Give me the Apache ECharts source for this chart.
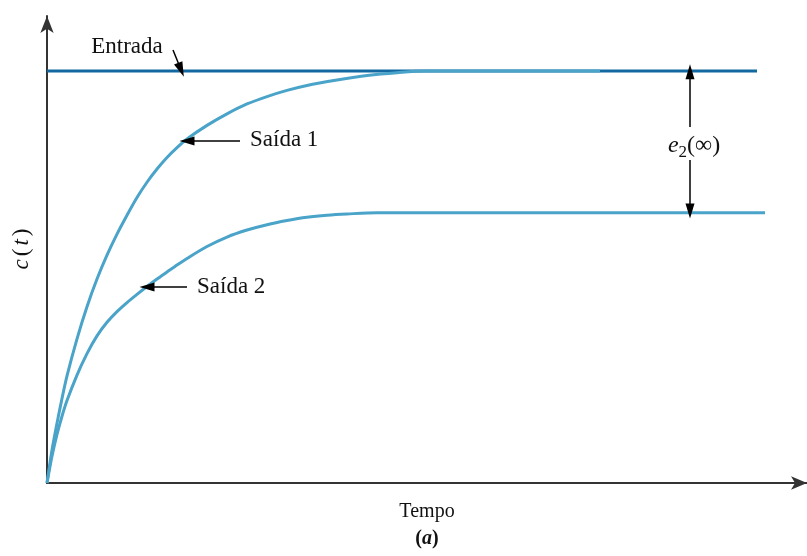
<!DOCTYPE html>
<html>
<head>
<meta charset="utf-8">
<script src="https://cdn.jsdelivr.net/npm/echarts@6/dist/echarts.min.js"></script>
<style>html,body{margin:0;padding:0;background:#fff}#c{width:807px;height:556px}</style>
</head>
<body>
<div id="c"></div>
<script>
// time axis (arbitrary units) and normalised response values
var entradaT = [0, 7.10];
var entradaY = [1.0, 1.0];
var saida1T = [0, 0.05, 0.1, 0.15, 0.2, 0.3, 0.4, 0.5, 0.6, 0.7, 0.8, 0.9, 1.0, 1.1, 1.2, 1.3, 1.4, 1.6, 1.8, 2.0, 2.2, 2.4, 2.6, 2.9, 3.2, 3.5, 3.8, 4.4, 5.0, 5.53];
var saida1Y = [0, 0.08, 0.145, 0.205, 0.26, 0.35, 0.428, 0.495, 0.553, 0.604, 0.650, 0.693, 0.730, 0.762, 0.790, 0.814, 0.835, 0.868, 0.896, 0.920, 0.938, 0.953, 0.965, 0.978, 0.989, 0.996, 1.0, 1.0, 1.0, 1.0];
var saida2T = [0, 0.05, 0.1, 0.15, 0.2, 0.3, 0.4, 0.5, 0.6, 0.7, 0.8, 0.9, 1.0, 1.1, 1.2, 1.3, 1.4, 1.6, 1.8, 2.0, 2.2, 2.4, 2.6, 2.8, 3.0, 3.3, 3.6, 4.5, 5.5, 6.4, 7.18];
var saida2Y = [0, 0.065, 0.118, 0.162, 0.200, 0.262, 0.314, 0.357, 0.390, 0.416, 0.438, 0.458, 0.477, 0.495, 0.512, 0.529, 0.545, 0.574, 0.597, 0.614, 0.627, 0.637, 0.645, 0.650, 0.653, 0.656, 0.656, 0.656, 0.656, 0.656, 0.656];
var labels = ['Entrada', 'Saída 1', 'Saída 2'];

function zip(a, b) { return a.map(function (v, i) { return [v, b[i]]; }); }

var FONT = 'Liberation Serif';
var DARK = '#1268a0';
var LIGHT = '#4aa3c9';

function arrow(from, to) {
  return [
    { coord: from, symbol: 'none' },
    { coord: to, symbol: 'triangle', symbolSize: [9, 15] }
  ];
}
function textPt(coord, text, align, size) {
  return {
    coord: coord, symbol: 'circle', symbolSize: 1, itemStyle: { color: 'rgba(0,0,0,0)' },
    label: { show: true, position: 'inside', formatter: text, color: '#111', fontFamily: FONT, fontSize: size || 23, align: align || 'center', verticalAlign: 'middle' }
  };
}

var chart = echarts.init(document.getElementById('c'));
chart.setOption({
  backgroundColor: '#fff',
  animation: false,
  grid: { left: 47, right: 0, top: 16, bottom: 73, containLabel: false, outerBoundsMode: 'none' },
  xAxis: {
    type: 'value', min: 0, max: 7.6,
    axisLine: { show: true, onZero: false, symbol: ['none', 'arrow'], symbolSize: [10, 16], lineStyle: { color: '#333', width: 2 } },
    axisTick: { show: false }, axisLabel: { show: false }, splitLine: { show: false },
    name: 'Tempo\n{b|(}{bi|a}{b|)}', nameLocation: 'middle', nameGap: 15,
    nameTextStyle: {
      fontFamily: FONT, fontSize: 20, color: '#111', lineHeight: 27, verticalAlign: 'top',
      rich: {
        b: { fontFamily: FONT, fontSize: 20, fontWeight: 'bold', color: '#111', lineHeight: 27 },
        bi: { fontFamily: FONT, fontSize: 20, fontWeight: 'bold', fontStyle: 'italic', color: '#111', lineHeight: 27 }
      }
    }
  },
  yAxis: {
    type: 'value', min: 0, max: 1.1335,
    axisLine: { show: true, onZero: false, symbol: ['none', 'arrow'], symbolSize: [10, 17], lineStyle: { color: '#333', width: 2 } },
    axisTick: { show: false }, axisLabel: { show: false }, splitLine: { show: false },
    name: '{i|c}{n|(}{i|t}{n|)}', nameLocation: 'middle', nameGap: 14, nameRotate: 90,
    nameTextStyle: {
      rich: {
        i: { fontFamily: FONT, fontSize: 23, fontStyle: 'italic', color: '#111', padding: [0, 2, 0, 2] },
        n: { fontFamily: FONT, fontSize: 23, color: '#111', padding: [0, 1, 0, 1] }
      }
    }
  },
  series: [
    {
      name: labels[0], type: 'line', data: zip(entradaT, entradaY), showSymbol: false, z: 2,
      lineStyle: { color: DARK, width: 3 }
    },
    {
      name: labels[1], type: 'line', data: zip(saida1T, saida1Y), showSymbol: false, smooth: 0.3, z: 3,
      lineStyle: { color: LIGHT, width: 3, join: 'round' }
    },
    {
      name: labels[2], type: 'line', data: zip(saida2T, saida2Y), showSymbol: false, smooth: 0.3, z: 3,
      lineStyle: { color: LIGHT, width: 3, join: 'round' },
      markLine: {
        silent: true, animation: false, symbol: ['none', 'triangle'],
        lineStyle: { color: '#000', width: 1.5, type: 'solid' },
        label: { show: false },
        data: [
          arrow([1.26, 1.051], [1.34, 1.003]),
          arrow([1.93, 0.830], [1.40, 0.830]),
          arrow([1.40, 0.476], [1.00, 0.476]),
          arrow([6.43, 0.864], [6.43, 0.998]),
          arrow([6.43, 0.784], [6.43, 0.660])
        ]
      },
      markPoint: {
        silent: true, animation: false,
        data: [
          textPt([0.80, 1.058], labels[0], 'center', 23),
          textPt([2.03, 0.832], labels[1], 'left', 23),
          textPt([1.50, 0.476], labels[2], 'left', 23),
          {
            coord: [6.47, 0.818], symbol: 'circle', symbolSize: 1, itemStyle: { color: 'rgba(0,0,0,0)' },
            label: {
              show: true, position: 'inside', align: 'center', verticalAlign: 'middle',
              formatter: '{e|e}{s|2}{n|(∞)}',
              rich: {
                e: { fontFamily: FONT, fontSize: 24, fontStyle: 'italic', color: '#111', lineHeight: 30, verticalAlign: 'middle' },
                s: { fontFamily: FONT, fontSize: 17, color: '#111', lineHeight: 30, verticalAlign: 'bottom', padding: [10, 0, 0, 0] },
                n: { fontFamily: FONT, fontSize: 24, color: '#111', lineHeight: 30, verticalAlign: 'middle' }
              }
            }
          }
        ]
      }
    }
  ]
});
</script>
</body>
</html>
